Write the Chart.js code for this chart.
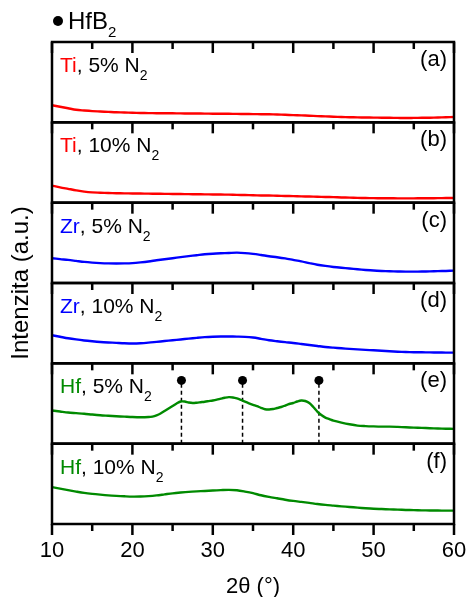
<!DOCTYPE html>
<html>
<head>
<meta charset="utf-8">
<script src="https://cdn.jsdelivr.net/npm/chart.js@4/dist/chart.umd.min.js"></script>
<style>
  body { margin: 0; background: #fff; }
  canvas { display: block; }
</style>
</head>
<body>
<canvas id="xrd" width="469" height="597"></canvas>
<script>
// 2theta positions (deg)
const twoTheta = [10,11,12,13,14,15,16,17,18,19,20,21,22,23,24,25,26,27,28,29,30,31,32,33,34,35,
  36,37,38,39,40,41,42,43,44,45,46,47,48,49,50,51,52,53,54,55,56,57,58,59,60];
const twoThetaHf5 = [10,11,12,13,14,15,16,17,18,19,20,21,22,22.5,23,23.5,24,24.5,25,25.5,26,26.5,27,27.5,
  28,28.5,29,29.5,30,30.5,31,31.5,32,32.5,33,33.5,34,34.5,35,35.5,36,36.5,37,37.5,38,38.5,39,39.5,
  40,40.5,41,41.5,42,42.5,43,43.5,44,44.5,45,46,47,48,49,50,51,52,53,54,55,56,57,58,59,60];

// intensities (a.u.), one panel each
const ti5 = [17,15.5,14,12.5,11.8,11.2,10.8,10.4,10,9.8,9.5,9.3,9.2,9.1,9,9,8.9,8.8,8.8,8.7,8.6,8.6,8.5,8.4,8.3,8.2,
  8.1,8,7.8,7.5,7.2,6.9,6.6,6.2,5.9,5.6,5.3,5.1,4.9,4.8,4.7,4.6,4.5,4.4,4.3,4.4,4.5,4.6,4.8,5,5.3];
const ti10 = [17,15.3,13.8,12.3,11,10.2,9.9,9.6,9.4,9.3,9.2,9.1,9,8.9,8.8,8.7,8.6,8.5,8.4,8.3,8.2,8.1,8,7.8,7.6,7.4,
  7.2,7.1,6.9,6.7,6.5,6.3,6.1,5.9,5.7,5.5,5.2,5,4.8,4.6,4.5,4.4,4.4,4.3,4.3,4.3,4.4,4.4,4.5,4.6,4.7];
const zr5 = [24.7,23.8,23,22,21,20.3,19.8,19.5,19.4,19.5,19.8,20.5,21.4,22.6,23.7,24.7,25.8,26.8,27.7,28.6,29.2,29.6,29.9,30.2,29.8,29,
  27.9,26.7,25.7,24.5,23,21.5,19.8,18.2,17,16,15.2,14.5,13.7,13,12.4,12,11.7,11.5,11.3,11.3,11.4,11.6,11.8,12,12.3];
const zr10 = [28,26.5,25,23.8,22.8,22,21.3,20.8,20.4,20,19.8,20,20.6,21.4,22.2,23,23.8,24.6,25.4,26.1,26.5,26.7,26.7,26.6,26.4,25.7,
  24.4,23,22,21.1,20.3,19.3,18.3,17.3,16.3,15.6,15,14.4,13.9,13.4,13,12.5,12,11.6,11.3,11.1,11,10.9,10.8,10.7,10.7];
const hf5 = [33,32,31,30.4,29.8,29,28.3,27.8,27.3,26.9,26.5,26.3,26.5,27,28.2,30,32.5,35,37.5,40,42,42,41,40.5,
  40.8,41.3,41.8,42.4,43,43.8,44.8,45.7,46.3,46,45,43.5,41.8,40.2,38.7,37.3,35.7,34.3,34,34.5,35.5,36.5,38,39.5,
  40.5,42,43,42.5,40.5,36.5,32,28.5,26,24.5,23,21,19.3,18,17.5,17.2,17,17,16.7,16.3,16,15.7,15.4,15.1,14.9,14.7];
const hf10 = [36.7,35.2,33.7,32.3,31,30,29.2,28.5,28,27.6,27.3,27.4,27.8,28.5,29.5,30.5,31.3,32,32.5,32.9,33.3,33.7,34,33.6,32.3,30.7,
  28.6,27,25.6,24.2,23,22,21,19.9,19,18.3,17.6,17,16.3,15.7,15.2,14.9,14.6,14.3,14,13.8,13.6,13.5,13.4,13.3,13.3];

// HfB2 reflections marked in panel (e)
const hfb2Peaks = [26.1, 33.7, 43.2];
const peakMarkLevel = 63;

// panel captions
const panelLetters = ['(a)','(b)','(c)','(d)','(e)','(f)'];
const metals = ['Ti','Ti','Zr','Zr','Hf','Hf'];
const nitrogen = ['5%','10%','5%','10%','5%','10%'];
const xTicks = [10,20,30,40,50,60];
const xMinor = [15,25,35,45,55];

const RED = '#ff0000', BLUE = '#0000ff', GREEN = '#008a00';
const colors = [RED, RED, BLUE, BLUE, GREEN, GREEN];
const series = [ti5, ti10, zr5, zr10, hf5, hf10];
const xs = [twoTheta, twoTheta, twoTheta, twoTheta, twoThetaHf5, twoTheta];
const panelIds = ['ya','yb','yc','yd','ye','yf'];
const FONT = '"Liberation Sans", Arial, sans-serif';

const pts = (xv, yv) => xv.map((x, i) => ({x: x, y: yv[i]}));

const datasets = series.map((s, i) => ({
  data: pts(xs[i], s),
  yAxisID: panelIds[i],
  borderColor: colors[i],
  borderWidth: 2.4,
  pointRadius: 0,
  tension: 0.3
}));

hfb2Peaks.forEach(p => {
  datasets.push({
    data: [{x: p, y: 0}, {x: p, y: peakMarkLevel}],
    yAxisID: 'ye',
    borderColor: '#000',
    borderWidth: 1.5,
    borderDash: [4, 3],
    pointRadius: 0
  });
});
datasets.push({
  data: hfb2Peaks.map(p => ({x: p, y: peakMarkLevel})),
  yAxisID: 'ye',
  showLine: false,
  pointRadius: 4.5,
  pointBackgroundColor: '#000',
  pointBorderWidth: 0
});

// stacked panels: last defined ends up on top, so define f..a
const scales = {
  x: {
    type: 'linear', min: 10, max: 60,
    grid: {display: false, drawTicks: false},
    border: {display: false},
    ticks: {stepSize: 10, color: '#000', font: {family: FONT, size: 22}, padding: 14},
    title: {display: true, text: '2θ (°)', color: '#000', font: {family: FONT, size: 22}, padding: {top: 0, bottom: -3}},
    afterFit: s => { s.height = 73; s.paddingLeft = 0; s.paddingRight = 0; }
  }
};
panelIds.slice().reverse().forEach(id => {
  scales[id] = {
    type: 'linear', position: 'left', stack: 'panels', stackWeight: 1,
    min: 0, max: 80,
    grid: {display: false, drawTicks: false},
    border: {display: false},
    ticks: {display: false},
    afterFit: s => { s.width = 0; }
  };
});

function drawCaption(ctx, x, y, metal, pct, color) {
  ctx.textAlign = 'left';
  ctx.textBaseline = 'alphabetic';
  ctx.font = '21px ' + FONT;
  ctx.fillStyle = color;
  ctx.fillText(metal, x, y);
  x += ctx.measureText(metal).width;
  const rest = ', ' + pct + ' N';
  ctx.fillStyle = '#000';
  ctx.fillText(rest, x, y);
  x += ctx.measureText(rest).width;
  ctx.font = '14px ' + FONT;
  ctx.fillText('2', x, y + 8);
}

const frame = {
  id: 'frame',
  afterDatasetsDraw(chart) {
    const {ctx, chartArea: area} = chart;
    const sx = chart.scales.x;
    ctx.save();
    ctx.strokeStyle = '#000';
    const edges = panelIds.map(id => chart.scales[id].top);
    edges.push(chart.scales[panelIds[panelIds.length - 1]].bottom);

    // tick marks hanging from every panel edge
    ctx.lineWidth = 2.5;
    edges.forEach(yy => {
      xTicks.forEach(v => {
        const px = sx.getPixelForValue(v);
        ctx.beginPath(); ctx.moveTo(px, yy); ctx.lineTo(px, yy + 11); ctx.stroke();
      });
      xMinor.forEach(v => {
        const px = sx.getPixelForValue(v);
        ctx.beginPath(); ctx.moveTo(px, yy); ctx.lineTo(px, yy + 7); ctx.stroke();
      });
    });

    // panel frames
    ctx.lineWidth = 2.5;
    panelIds.forEach(id => {
      const s = chart.scales[id];
      ctx.strokeRect(area.left, s.top, area.right - area.left, s.bottom - s.top);
    });

    // captions
    panelIds.forEach((id, i) => {
      const s = chart.scales[id];
      drawCaption(ctx, area.left + 8, s.top + 30, metals[i], nitrogen[i], colors[i]);
      ctx.font = '22px ' + FONT;
      ctx.fillStyle = '#000';
      ctx.textAlign = 'right';
      ctx.fillText(panelLetters[i], area.right - 7, s.top + 24);
    });

    // legend
    ctx.fillStyle = '#000';
    ctx.beginPath(); ctx.arc(area.left + 6, 21, 5, 0, Math.PI * 2); ctx.fill();
    ctx.textAlign = 'left';
    ctx.font = '24px ' + FONT;
    ctx.fillText('HfB', area.left + 16, 29);
    const w = ctx.measureText('HfB').width;
    ctx.font = '15px ' + FONT;
    ctx.fillText('2', area.left + 16 + w, 37);

    // y title
    ctx.translate(21, (area.top + area.bottom) / 2);
    ctx.rotate(-Math.PI / 2);
    ctx.textAlign = 'center';
    ctx.textBaseline = 'middle';
    ctx.font = '24px ' + FONT;
    ctx.fillText('Intenzita (a.u.)', 0, 0);
    ctx.restore();
  }
};

new Chart(document.getElementById('xrd'), {
  type: 'line',
  data: {datasets: datasets},
  options: {
    responsive: false,
    animation: false,
    layout: {padding: {top: 42, left: 52, right: 15, bottom: 0}},
    plugins: {legend: {display: false}, tooltip: {enabled: false}},
    scales: scales
  },
  plugins: [frame]
});
</script>
</body>
</html>
